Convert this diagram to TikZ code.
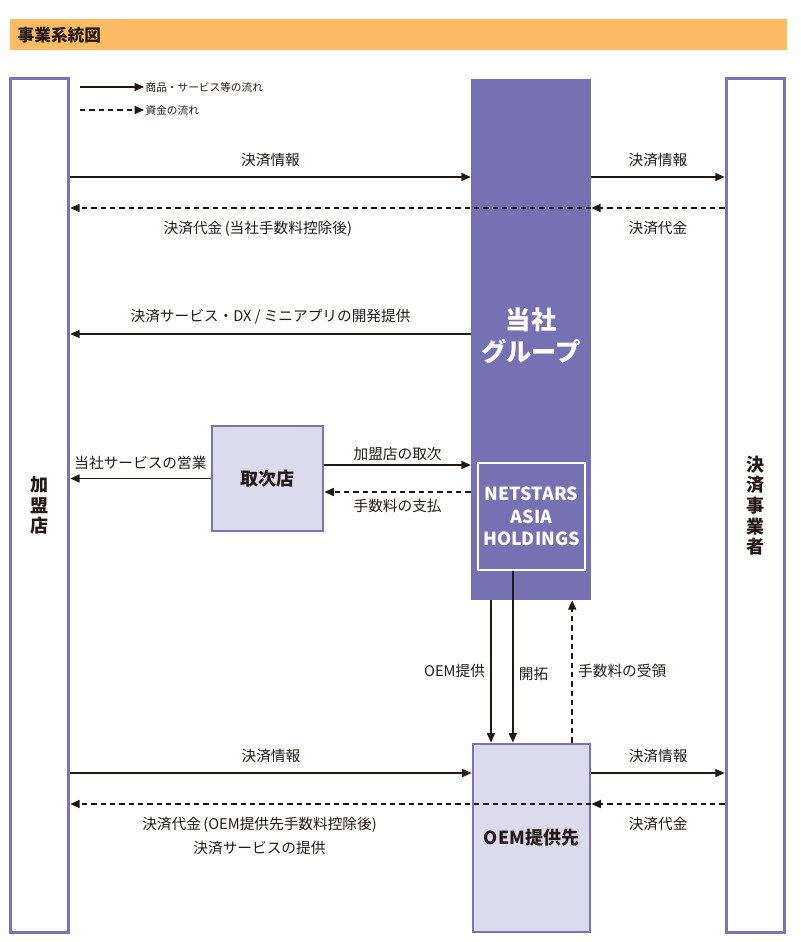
\documentclass[tikz,border=0pt]{standalone}
\usepackage{fontspec}
\setmainfont{Noto Sans CJK JP}
\usetikzlibrary{arrows.meta,positioning,calc}
\definecolor{band}{HTML}{FDBB63}
\definecolor{grpfill}{HTML}{7671B3}
\definecolor{edge}{HTML}{7B72B8}
\definecolor{pale}{HTML}{DCDAED}
\definecolor{ink}{HTML}{231815}

\begin{document}
\begin{tikzpicture}[x=0.75pt,y=-0.75pt,font=\fontsize{11pt}{13pt}\selectfont,text=ink,
  flow/.style={-{Triangle[length=7pt,width=6pt]},line width=1.1pt,draw=ink},
  cash/.style={flow,dash pattern=on 4pt off 3pt},
  lbl/.style={text=ink,inner sep=2pt},
  side/.style={draw=edge,line width=2.2pt,fill=white,minimum width=44pt,minimum height=640pt,
    align=center,font=\fontsize{13.5pt}{15.5pt}\selectfont\bfseries},
  palebox/.style={draw=edge,line width=2.2pt,fill=pale,font=\fontsize{13.5pt}{15pt}\selectfont\bfseries}]
\useasboundingbox (0,0) rectangle (800,942);
% title
\node[fill=band,minimum width=582.75pt,minimum height=23.25pt,anchor=north west,inner sep=0pt] (bar) at (10,19) {};
\node[anchor=west,font=\fontsize{12.5pt}{14pt}\selectfont\bfseries] (ttl) at (13,35) {事業系統図};
% boxes
\node[side] (L) at (39.5,505.5) {加\\盟\\店};
\node[side] (R) at (755.5,505.5) {決\\済\\事\\業\\者};
\node[fill=grpfill,minimum width=90pt,minimum height=390.75pt,inner sep=0pt] (G) at (531,339.5) {};
\node[text=white,align=center,font=\fontsize{19pt}{24pt}\selectfont\bfseries] (Gt) at (531,336) {当社\\グループ};
\node[draw=white,line width=1.5pt,minimum width=80pt,minimum height=80pt,text=white,align=center,inner sep=1pt,
  font=\fontsize{13.5pt}{17pt}\selectfont\bfseries] (N) at (531.5,516.5) {NETSTARS\\ASIA\\HOLDINGS};
\node[palebox,minimum width=83.25pt,minimum height=78.75pt] (T) at (267.5,478.5) {取次店};
\node[palebox,minimum width=87.75pt,minimum height=141pt] (O) at (531.5,838) {OEM提供先};
% legend
\coordinate (k1) at (80,87);
\coordinate (k2) at (80,110);
\node[anchor=west,inner sep=1pt,font=\fontsize{8pt}{10pt}\selectfont] (k1t) at (144,87) {商品・サービス等の流れ};
\node[anchor=west,inner sep=1pt,font=\fontsize{8pt}{10pt}\selectfont] (k2t) at (144,110) {資金の流れ};
\draw[flow,line width=1pt] (k1) -- (k1t.west);
\draw[cash,line width=1pt] (k2) -- (k2t.west);
% rows
\foreach \n/\y in {r1/177,r2/208,r3/334,r4/465,r5/492,r6/773,r7/804} {\coordinate (\n) at (0,\y);}
\draw[flow] (L.east |- r1) -- node[lbl,above=5pt] {決済情報} (G.west |- r1);
\draw[flow] (G.east |- r1) -- node[lbl,above=5pt] {決済情報} (R.west |- r1);
\draw[cash] (R.west |- r2) -- node[lbl,below=7pt] {決済代金} (G.east |- r2);
\draw[cash] (G.east |- r2) -- node[lbl,below=7pt,pos=0.64] {決済代金\,(当社手数料控除後)} (L.east |- r2);
\draw[flow] (G.west |- r3) -- node[lbl,above=5pt] {決済サービス・DX / ミニアプリの開発提供} (L.east |- r3);
% agent
\draw[flow] (T.west) -- node[lbl,above=4pt] {当社サービスの営業} (L.east |- T.west);
\draw[flow] (T.east |- r4) -- node[lbl,above=1pt] {加盟店の取次} (G.west |- r4);
\draw[cash] (G.west |- r5) -- node[lbl,below=3pt] {手数料の支払} (T.east |- r5);
% OEM
\draw[flow] ([xshift=-30pt]G.south) -- node[lbl,left=2pt] {OEM提供} ([xshift=-30pt]G.south |- O.north);
\draw[flow] ([xshift=-14pt]N.south) -- node[lbl,right=2pt,pos=0.6] {開拓} ([xshift=-14pt]N.south |- O.north);
\draw[cash] ([xshift=30.5pt]O.north) -- node[lbl,right=2pt] {手数料の受領} ([xshift=30.5pt]O.north |- G.south);
\draw[flow] (L.east |- r6) -- node[lbl,above=5pt] {決済情報} (O.west |- r6);
\draw[flow] (O.east |- r6) -- node[lbl,above=5pt] {決済情報} (R.west |- r6);
\draw[cash] (R.west |- r7) -- node[lbl,below=7pt] {決済代金} (O.east |- r7);
\draw[cash] (O.east |- r7) -- node[lbl,below=7pt,pos=0.637,align=center,font=\fontsize{11pt}{18pt}\selectfont]
  {決済代金\,(OEM提供先手数料控除後)\\決済サービスの提供} (L.east |- r7);
\end{tikzpicture}
\end{document}
